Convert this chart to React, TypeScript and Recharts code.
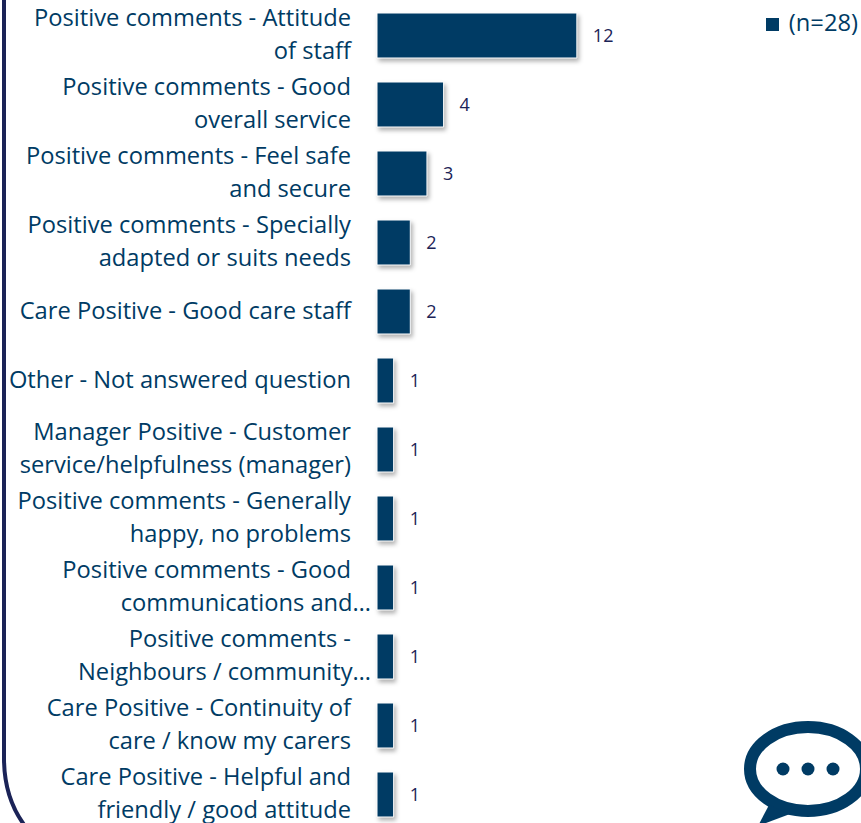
import { BarChart, Bar, XAxis, YAxis, Legend, LabelList } from "recharts";

const NAVY = "#003b64";
const FRAME = "#1b2357";
const FONT = "'Open Sans', sans-serif";

const seriesName = "(n=28)";

// line breaks are kept as in the original axis labels
const categories = [
  "Positive comments - Attitude\nof staff",
  "Positive comments - Good\noverall service",
  "Positive comments - Feel safe\nand secure",
  "Positive comments - Specially\nadapted or suits needs",
  "Care Positive - Good care staff",
  "Other - Not answered question",
  "Manager Positive - Customer\nservice/helpfulness (manager)",
  "Positive comments - Generally\nhappy, no problems",
  "Positive comments - Good\ncommunications and…",
  "Positive comments -\nNeighbours / community…",
  "Care Positive - Continuity of\ncare / know my carers",
  "Care Positive - Helpful and\nfriendly / good attitude",
];
const counts = [12, 4, 3, 2, 2, 1, 1, 1, 1, 1, 1, 1];

const data = categories.map((name, i) => ({ name, value: counts[i] }));

function CategoryTick({ x, y, payload }: any) {
  const lines: string[] = payload.value.split("\n");
  const first = y + 7 - ((lines.length - 1) * 33) / 2;
  return (
    <text textAnchor="end" fontFamily={FONT} fontSize={23.7} fill={NAVY}>
      {lines.map((line, i) => (
        <tspan key={i} x={line.endsWith("…") ? 371 : 351} y={first + i * 33}>
          {line}
        </tspan>
      ))}
    </text>
  );
}

export default function App() {
  return (
    <div
      style={{
        position: "fixed",
        left: 0,
        top: 0,
        width: 861,
        height: 823,
        overflow: "hidden",
        background: "#fff",
      }}
    >
      <BarChart
        layout="vertical"
        width={861}
        height={830}
        data={data}
        barCategoryGap={0}
        margin={{ top: 1, right: 182, bottom: 1, left: 0 }}
      >
        <XAxis type="number" hide domain={[0, 12]} />
        <YAxis
          type="category"
          dataKey="name"
          width={377}
          interval={0}
          axisLine={false}
          tickLine={false}
          tick={CategoryTick}
        />
        <Legend
          layout="vertical"
          align="right"
          verticalAlign="top"
          iconType="square"
          iconSize={13}
          wrapperStyle={{
            position: "absolute",
            top: 6,
            right: -7,
            left: "auto",
            width: "auto",
            fontFamily: FONT,
            fontSize: 23.7,
          }}
          formatter={(v: string) => <span style={{ color: NAVY, marginLeft: 6 }}>{v}</span>}
        />
        <Bar
          dataKey="value"
          name={seriesName}
          fill={NAVY}
          stroke="#ffffff"
          strokeWidth={1}
          barSize={45}
          isAnimationActive={false}
          style={{ filter: "drop-shadow(2px 3px 2px rgba(0,0,0,0.3))" }}
        >
          <LabelList
            dataKey="value"
            position="right"
            offset={16}
            fontFamily={FONT}
            fontSize={18}
            fill={FRAME}
          />
        </Bar>
      </BarChart>
      <svg
        width={861}
        height={823}
        style={{ position: "absolute", left: 0, top: 0, pointerEvents: "none" }}
      >
        <path d="M4 -2 V758 Q4 798 25 826" fill="none" stroke={FRAME} strokeWidth={4} />
        <ellipse cx={808} cy={769} rx={58} ry={42} fill="#fff" stroke={NAVY} strokeWidth={12} />
        <path d="M769 805 L758 826 L790 814 Z" fill={NAVY} />
        <circle cx={783} cy={769} r={6.5} fill={NAVY} />
        <circle cx={808} cy={769} r={6.5} fill={NAVY} />
        <circle cx={833} cy={769} r={6.5} fill={NAVY} />
      </svg>
    </div>
  );
}
